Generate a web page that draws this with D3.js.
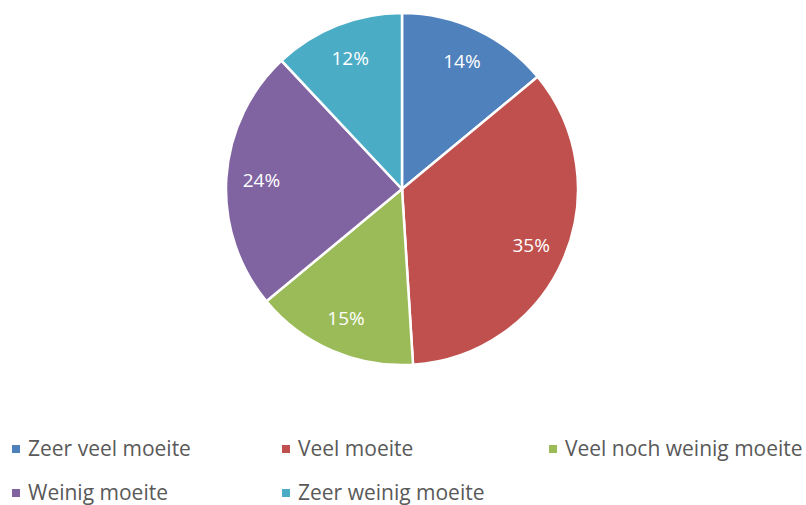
<!DOCTYPE html>
<html>
<head>
<meta charset="utf-8">
<script src="https://d3js.org/d3.v7.min.js"></script>
<style>
  body { margin: 0; background: #fff; }
  text { font-family: "Open Sans", "Noto Sans", sans-serif; }
</style>
</head>
<body>
<script>
// data
var categories = ["Zeer veel moeite", "Veel moeite", "Veel noch weinig moeite", "Weinig moeite", "Zeer weinig moeite"];
var values = [14, 35, 15, 24, 12];
var colors = ["#4F81BD", "#C0504D", "#9BBB59", "#8064A2", "#4BACC6"];

var width = 806, height = 505;
var cx = 402, cy = 189, radius = 176;

var svg = d3.select("body").append("svg")
    .attr("width", width)
    .attr("height", height);

var pie = d3.pie().sort(null).value(d => d);
var arc = d3.arc().innerRadius(0).outerRadius(radius);
var labelArc = d3.arc().innerRadius(radius * 0.8).outerRadius(radius * 0.8);

var g = svg.append("g").attr("transform", `translate(${cx},${cy})`);
var arcs = pie(values);

g.selectAll("path")
    .data(arcs).enter()
    .append("path")
    .attr("d", arc)
    .attr("fill", (d, i) => colors[i])
    .attr("stroke", "#fff")
    .attr("stroke-width", 2.5);

g.selectAll("text.lbl")
    .data(arcs).enter()
    .append("text")
    .attr("class", "lbl")
    .attr("transform", d => `translate(${labelArc.centroid(d)})`)
    .attr("text-anchor", "middle")
    .attr("dy", "0.35em")
    .attr("fill", "#fff")
    .style("font-size", "19px")
    .text(d => d.value + "%");

// legend, three columns
var colX = [12, 282, 549];
var rowY = [449, 493];
var legend = svg.selectAll("g.leg")
    .data(categories).enter()
    .append("g")
    .attr("class", "leg")
    .attr("transform", (d, i) => `translate(${colX[i % 3]},${rowY[Math.floor(i / 3)]})`);

legend.append("rect")
    .attr("x", 0).attr("y", -4)
    .attr("width", 8).attr("height", 8)
    .attr("fill", (d, i) => colors[i]);

legend.append("text")
    .attr("x", 16)
    .attr("dy", "0.35em")
    .attr("fill", "#595959")
    .style("font-size", "21px")
    .text(d => d);
</script>
</body>
</html>
